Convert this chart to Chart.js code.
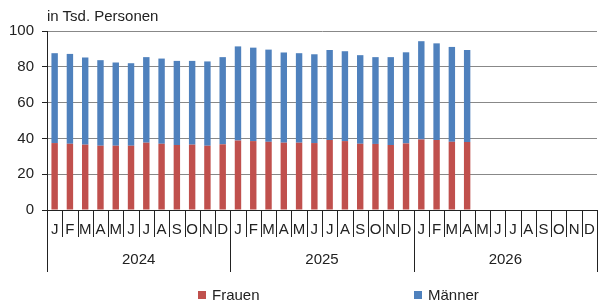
<!DOCTYPE html>
<html><head><meta charset="utf-8">
<script src="https://cdn.jsdelivr.net/npm/chart.js@4"></script>
<style>
body{margin:0;background:#fff;font-family:"Liberation Sans",Arial,sans-serif;color:#222;}
#wrap{position:relative;width:598px;height:305px;overflow:hidden;}
#title{position:absolute;left:47px;top:7px;font-size:15px;}
#legend{position:absolute;top:286px;left:0;width:598px;height:18px;font-size:15px;}
.li{position:absolute;top:0;white-space:nowrap;}
.sw{display:inline-block;width:8px;height:8px;margin-right:6px;vertical-align:1px;}
</style>
</head><body>
<div id="wrap"><canvas id="c" width="598" height="305"></canvas>
<div id="title">in Tsd. Personen</div>
<div id="legend"></div></div>
<script>
const monthLetters = ['J','F','M','A','M','J','J','A','S','O','N','D'];
const years = ['2024','2025','2026'];
const categories = years.flatMap(() => monthLetters);
const frauen = [37.4,37.0,36.5,35.9,35.9,35.9,37.6,37.0,36.3,36.5,35.9,36.7,
                38.8,38.5,38.1,37.6,37.6,37.4,39.1,38.5,37.0,36.9,36.3,37.2,
                39.4,39.1,38.1,38.0];
const maenner = [50.2,50.2,48.7,47.8,46.5,46.1,47.8,47.6,47.0,46.8,47.1,48.7,
                 52.6,52.2,51.5,50.4,50.0,49.6,50.3,50.2,49.5,48.5,49.1,50.9,
                 54.9,54.0,53.0,51.4];
const yTicks = [0,20,40,60,80,100];
const seriesNames = ['Frauen','Männer'];
const seriesColors = ['#C0504D','#4F81BD'];

const separators = {
  id:'separators',
  afterDraw(chart){
    const x = chart.scales.x, ctx = chart.ctx, b = chart.chartArea.bottom;
    ctx.save();
    ctx.strokeStyle = '#222'; ctx.lineWidth = 1;
    for(let i=0;i<=categories.length;i++){
      const px = Math.round(x.getPixelForValue(i-0.5))+0.5;
      const isYear = i % 12 === 0;
      ctx.beginPath(); ctx.moveTo(px,b); ctx.lineTo(px, isYear ? 272 : 237); ctx.stroke();
    }
    ctx.restore();
  }
};

const font = {family:'"Liberation Sans", Arial, sans-serif', size:15};
new Chart(document.getElementById('c'), {
  type:'bar',
  data:{labels:categories, datasets:[
    {label:seriesNames[0], data:frauen, backgroundColor:seriesColors[0], stack:'s', barPercentage:0.42, categoryPercentage:1},
    {label:seriesNames[1], data:maenner, backgroundColor:seriesColors[1], stack:'s', barPercentage:0.42, categoryPercentage:1}
  ]},
  options:{
    responsive:false, animation:false,
    layout:{padding:{top:31,right:1,left:0,bottom:0}},
    plugins:{legend:{display:false}, tooltip:{enabled:false}},
    scales:{
      y:{stacked:true, min:0, max:100, afterBuildTicks(s){s.ticks = yTicks.map(v=>({value:v}));},
         afterFit(s){s.width = 47;},
         grid:{color:'#888', lineWidth:1, tickLength:5, tickColor:'#222'},
         border:{display:true, color:'#222', width:1},
         ticks:{font, color:'#222', padding:8}},
      x:{stacked:true, offset:true, weight:0,
         afterFit(s){s.height = 28;},
         grid:{display:false}, border:{display:true, color:'#222', width:1},
         ticks:{font, color:'#222', padding:3, maxRotation:0, autoSkip:false}},
      x2:{type:'category', labels:years, position:'bottom', offset:true, weight:1,
         afterFit(s){s.height = 67;},
         grid:{display:false}, border:{display:false},
         ticks:{font, color:'#222', padding:5, maxRotation:0}}
    }
  },
  plugins:[separators]
});

const lg = document.getElementById('legend');
const legendX = [198, 414];
seriesNames.forEach((n,i)=>{
  const d = document.createElement('div'); d.className='li'; d.style.left = legendX[i]+'px';
  d.innerHTML = '<span class="sw" style="background:'+seriesColors[i]+'"></span>'+n;
  lg.appendChild(d);
});
</script>
</body></html>
